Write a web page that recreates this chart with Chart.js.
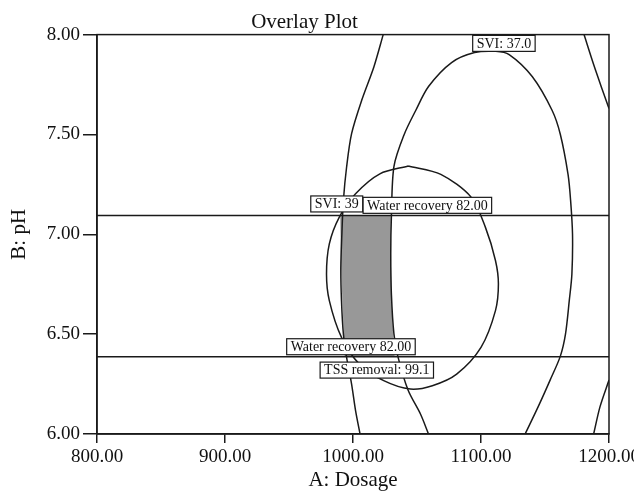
<!DOCTYPE html>
<html>
<head>
<meta charset="utf-8">
<script src="https://cdn.jsdelivr.net/npm/chart.js@4.4.1/dist/chart.umd.min.js"></script>
<style>
  html, body { margin: 0; padding: 0; background: #fff; }
  #wrap { width: 634px; height: 494px; }
</style>
</head>
<body>
<div id="wrap"><canvas id="overlay"></canvas></div>
<script>
// axis ticks
const dosageTicks = [800, 900, 1000, 1100, 1200];
const phTicks = [6.0, 6.5, 7.0, 7.5, 8.0];

// SVI 39 contour (left branch + two right corners)
const svi39LeftX = [1023.6, 1016.3, 1006.8, 998.9, 995.0, 992.5, 991.3, 990.5, 991.0, 992.5, 995.0, 998.9, 1002.0, 1005.5];
const svi39LeftY = [8.00, 7.838, 7.671, 7.504, 7.337, 7.17, 7.00, 6.835, 6.668, 6.50, 6.384, 6.25, 6.117, 6.00];
const svi39TopRightX = [1180.5, 1188, 1195, 1200];
const svi39TopRightY = [8.00, 7.85, 7.72, 7.63];
const svi39BottomRightX = [1200, 1193, 1188];
const svi39BottomRightY = [6.27, 6.137, 6.00];

// SVI 37.0 contour
const svi37X = [1059, 1052.7, 1043, 1035, 1032, 1030, 1029.5, 1030, 1032, 1040, 1049, 1059, 1077, 1095, 1111.5, 1122, 1140, 1155.6, 1162, 1168, 1170, 1171.5, 1171, 1169, 1166, 1162, 1154, 1144.7, 1134.5];
const svi37Y = [6.00, 6.10, 6.22, 6.39, 6.50, 6.70, 6.90, 7.09, 7.34, 7.50, 7.62, 7.74, 7.86, 7.91, 7.916, 7.90, 7.79, 7.62, 7.50, 7.30, 7.17, 7.00, 6.80, 6.67, 6.50, 6.39, 6.27, 6.137, 6.00];

// TSS removal 99.1 contour (closed)
const tssX = [1043.2, 1068.6, 1092.3, 1103.4, 1111.3, 1113.6, 1111.3, 1100, 1081, 1062, 1044.8, 1024, 1005, 991, 981.5, 979.3, 981.5, 989.3, 1002, 1021, 1043.2];
const tssY = [7.342, 7.30, 7.186, 7.036, 6.869, 6.752, 6.618, 6.434, 6.30, 6.242, 6.225, 6.267, 6.35, 6.484, 6.668, 6.80, 6.952, 7.086, 7.203, 7.303, 7.342];

// Water recovery 82.00 contours (pH levels)
const waterUpperPH = 7.094;
const waterLowerPH = 6.387;

// feasible (shaded) region
const shadeX = [990, 990.5, 991.5, 993.5, 1032.5, 1030.5, 1029.5, 1029.5, 990];
const shadeY = [7.094, 6.9, 6.7, 6.387, 6.387, 6.6, 6.9, 7.094, 7.094];

// contour labels: text and anchor (dosage, pH)
const labelTexts = ['SVI: 37.0', 'SVI: 39', 'Water recovery 82.00', 'Water recovery 82.00', 'TSS removal: 99.1'];
const labelX = [1117.9, 987.3, 1058.1, 998.4, 1018.6];
const labelY = [7.956, 7.152, 7.145, 6.437, 6.320];

function toPoints(xs, ys) {
  return xs.map((x, i) => ({ x: x, y: ys[i] }));
}

function contour(xs, ys) {
  return {
    data: toPoints(xs, ys),
    showLine: true,
    borderColor: '#1a1a1a',
    borderWidth: 1.5,
    pointRadius: 0,
    tension: 0.3,
    fill: false,
    order: 0
  };
}

const serif = 'Liberation Serif, Times New Roman, serif';

const boxPlugin = {
  id: 'boxAndLabels',
  afterDatasetsDraw(chart) {
    const ctx = chart.ctx;
    const area = chart.chartArea;
    const xs = chart.scales.x;
    const ys = chart.scales.y;
    ctx.save();
    ctx.strokeStyle = '#1a1a1a';
    ctx.lineWidth = 1.5;
    ctx.strokeRect(area.left, area.top, area.right - area.left, area.bottom - area.top);

    ctx.font = '14px ' + serif;
    ctx.textAlign = 'center';
    ctx.textBaseline = 'middle';
    labelTexts.forEach((t, i) => {
      const px = xs.getPixelForValue(labelX[i]);
      const py = ys.getPixelForValue(labelY[i]);
      const w = ctx.measureText(t).width + 8;
      const h = 16;
      ctx.fillStyle = '#fff';
      ctx.fillRect(px - w / 2, py - h / 2, w, h);
      ctx.lineWidth = 1.2;
      ctx.strokeRect(px - w / 2, py - h / 2, w, h);
      ctx.fillStyle = '#111';
      ctx.fillText(t, px, py + 0.5);
    });
    ctx.restore();
  }
};

new Chart(document.getElementById('overlay'), {
  type: 'scatter',
  data: {
    datasets: [
      {
        data: toPoints(shadeX, shadeY),
        showLine: true,
        borderWidth: 0,
        borderColor: 'rgba(0,0,0,0)',
        backgroundColor: '#989898',
        pointRadius: 0,
        fill: 'shape',
        order: 5
      },
      contour(svi39LeftX, svi39LeftY),
      contour(svi39TopRightX, svi39TopRightY),
      contour(svi39BottomRightX, svi39BottomRightY),
      contour(svi37X, svi37Y),
      contour(tssX, tssY),
      contour([800, 1200], [waterUpperPH, waterUpperPH]),
      contour([800, 1200], [waterLowerPH, waterLowerPH])
    ]
  },
  options: {
    responsive: true,
    maintainAspectRatio: false,
    animation: false,
    layout: { padding: { left: 0, right: 25, top: 0, bottom: 0 } },
    plugins: {
      legend: { display: false },
      tooltip: { enabled: false },
      title: {
        display: true,
        text: 'Overlay Plot',
        color: '#111',
        font: { family: serif, size: 21, weight: 'normal', lineHeight: 1.1 },
        padding: { top: 11, bottom: 0.5 }
      }
    },
    scales: {
      x: {
        type: 'linear',
        min: 800,
        max: 1200,
        afterBuildTicks: (s) => { s.ticks = dosageTicks.map(v => ({ value: v })); },
        afterFit: (s) => { s.height = 60; s.paddingLeft = 0; s.paddingRight = 0; },
        ticks: {
          color: '#111',
          padding: 3,
          maxRotation: 0,
          font: { family: serif, size: 19 },
          callback: (v) => Number(v).toFixed(2)
        },
        grid: { drawOnChartArea: false, drawTicks: true, tickLength: 9, color: '#1a1a1a', lineWidth: 1.5 },
        border: { color: '#1a1a1a', width: 1.5 },
        title: {
          display: true,
          text: 'A: Dosage',
          color: '#111',
          font: { family: serif, size: 21, lineHeight: 1.2 },
          padding: { top: 0, bottom: 1 }
        }
      },
      y: {
        type: 'linear',
        min: 6,
        max: 8,
        afterBuildTicks: (s) => { s.ticks = phTicks.map(v => ({ value: v })); },
        afterFit: (s) => { s.width = 97; s.paddingTop = 0; s.paddingBottom = 0; },
        ticks: {
          color: '#111',
          padding: 3,
          font: { family: serif, size: 19 },
          callback: (v) => Number(v).toFixed(2)
        },
        grid: { drawOnChartArea: false, drawTicks: true, tickLength: 14, color: '#1a1a1a', lineWidth: 1.5 },
        border: { color: '#1a1a1a', width: 1.5 },
        title: {
          display: true,
          text: 'B: pH',
          color: '#111',
          font: { family: serif, size: 21, lineHeight: 1.2 },
          padding: { top: 7, bottom: 0 }
        }
      }
    }
  },
  plugins: [boxPlugin]
});
</script>
</body>
</html>
